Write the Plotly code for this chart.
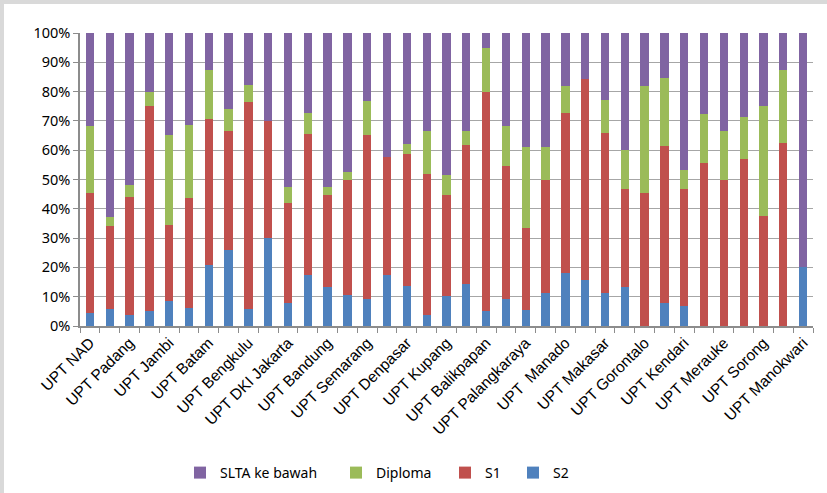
import plotly.graph_objects as go

# Every other category carries a visible name on the axis
tick_labels = [
    "UPT NAD", "UPT Padang", "UPT Jambi", "UPT Batam", "UPT Bengkulu",
    "UPT DKI Jakarta", "UPT Bandung", "UPT Semarang", "UPT Denpasar",
    "UPT Kupang", "UPT Balikpapan", "UPT Palangkaraya", "UPT  Manado",
    "UPT Makasar", "UPT Gorontalo", "UPT Kendari", "UPT Merauke",
    "UPT Sorong", "UPT Manokwari",
]
n_units = 37
positions = list(range(n_units))

# Share of staff by education level (percent of each unit)
s2 = [4.3, 5.7, 3.9, 5.0, 8.6, 6.25, 20.8, 25.9, 5.9, 30.0, 7.7, 17.3, 13.2,
      10.5, 9.3, 17.4, 13.8, 3.7, 10.3, 14.3, 5.0, 9.1, 5.6, 11.1, 18.2, 15.8,
      11.4, 13.3, 0, 7.7, 6.7, 0, 0, 0, 0, 0, 20.0]
s1 = [41.0, 28.4, 40.0, 70.0, 25.9, 37.5, 50.0, 40.8, 70.6, 40.0, 34.3, 48.2,
      31.5, 39.5, 55.8, 40.2, 44.8, 48.2, 34.5, 47.6, 75.0, 45.4, 27.7, 38.9,
      54.5, 68.4, 54.5, 33.4, 45.5, 53.8, 40.0, 55.6, 50.0, 57.1, 37.5, 62.5, 0]
diploma = [22.9, 3.1, 4.2, 5.0, 30.6, 25.0, 16.7, 7.4, 5.9, 0, 5.4, 7.1, 2.7,
           2.6, 11.6, 0, 3.5, 14.8, 6.9, 4.8, 15.0, 13.7, 27.8, 11.1, 9.1, 0,
           11.4, 13.3, 36.3, 23.1, 6.6, 16.6, 16.7, 14.3, 37.5, 25.0, 0]
slta = [31.8, 62.8, 51.9, 20.0, 34.9, 31.25, 12.5, 25.9, 17.6, 30.0, 52.6,
        27.4, 52.6, 47.4, 23.3, 42.4, 37.9, 33.3, 48.3, 33.3, 5.0, 31.8, 38.9,
        38.9, 18.2, 15.8, 22.7, 40.0, 18.2, 15.4, 46.7, 27.8, 33.3, 28.6, 25.0,
        12.5, 80.0]

W, H = 827, 493
L, R, T, B = 80, 14, 33, 167
pw, ph = W - L - R, H - T - B

# name, values, colour, legend id, legend left edge (canvas px)
series = [
    ("S2", s2, "#4F81BD", "legend4", 513),
    ("S1", s1, "#C0504D", "legend3", 445),
    ("Diploma", diploma, "#9BBB59", "legend2", 336),
    ("SLTA ke bawah", slta, "#8064A2", "legend", 180),
]

legend_font = dict(family="Noto Sans, Open Sans, sans-serif", size=14, color="#000")

fig = go.Figure()
legends = {}
for name, vals, color, lg, left_px in series:
    fig.add_trace(go.Bar(
        x=positions, y=vals, name=name, legend=lg,
        marker=dict(color=color, line=dict(width=0)),
    ))
    legends[lg] = dict(
        orientation="h", x=(left_px - L) / pw, xanchor="left",
        y=(H - B - 457) / ph, yanchor="top",
        font=legend_font, itemwidth=30, bgcolor="rgba(0,0,0,0)",
    )

fig.update_layout(
    width=W, height=H,
    margin=dict(l=L, r=R, t=T, b=B, autoexpand=False),
    barmode="stack",
    bargap=0.58,
    plot_bgcolor="white",
    paper_bgcolor="white",
    showlegend=True,
    xaxis=dict(
        range=[-0.5, n_units - 0.5],
        tickvals=positions[::2], ticktext=tick_labels,
        tickangle=-45, ticks="", showgrid=False, automargin=False,
        tickfont=dict(family="Liberation Sans, Arial, sans-serif", size=15.5, color="#000"),
        showline=True, linecolor="#8c8c8c", linewidth=1.5,
        minor=dict(tickvals=[p - 0.5 for p in positions] + [n_units - 0.5],
                   ticks="outside", ticklen=5, tickcolor="#8c8c8c", tickwidth=1,
                   showgrid=False),
    ),
    yaxis=dict(
        range=[0, 100], dtick=10, ticksuffix="%", automargin=False,
        showgrid=True, gridcolor="#a6a6a6", gridwidth=1.2,
        ticks="outside", ticklen=5, tickcolor="#8c8c8c",
        showline=True, linecolor="#8c8c8c", linewidth=1.5,
        tickfont=dict(family="Noto Sans, Open Sans, sans-serif", size=14.5, color="#000"),
        zeroline=False,
    ),
    shapes=[
        # light grey frame along the top and left edges of the canvas
        dict(type="rect", xref="paper", yref="paper",
             x0=(0 - L) / pw, x1=(W - L) / pw,
             y0=(H - B - 4) / ph, y1=(H - B) / ph,
             fillcolor="#d9d9d9", line=dict(width=0), layer="below"),
        dict(type="rect", xref="paper", yref="paper",
             x0=(0 - L) / pw, x1=(4 - L) / pw,
             y0=-B / ph, y1=(H - B) / ph,
             fillcolor="#d9d9d9", line=dict(width=0), layer="below"),
    ],
)
fig.update_layout(**legends)

fig.write_html("out.html")
